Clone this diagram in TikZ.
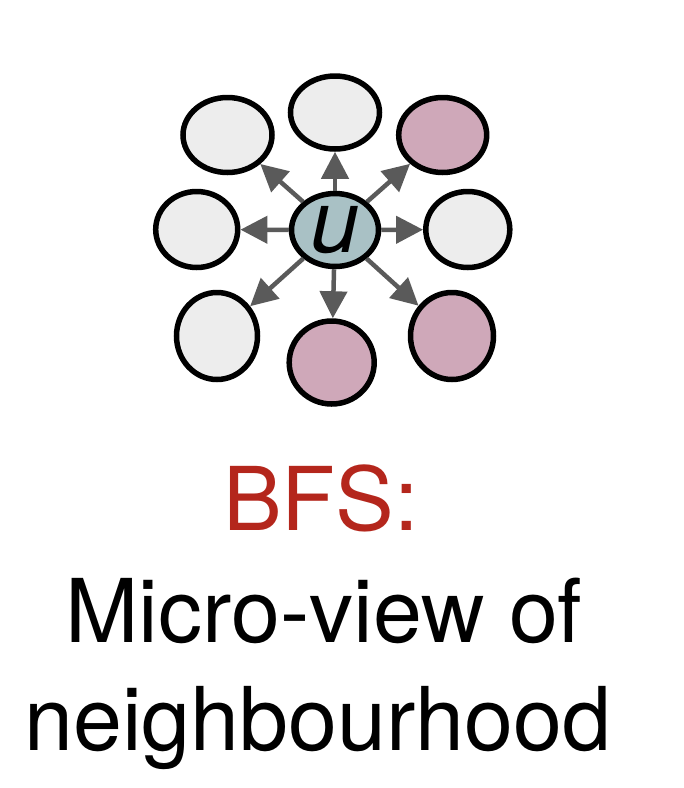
\documentclass[tikz,border=0pt]{standalone}
\usepackage{fontspec}
\setmainfont{TeX Gyre Heros}
\usetikzlibrary{shapes.geometric,arrows.meta}
\definecolor{nodegray}{HTML}{EDEDED}
\definecolor{nodepink}{HTML}{CFA8B9}
\definecolor{nodeteal}{HTML}{A9C1C5}
\definecolor{arrowgray}{HTML}{5A5A5A}
\definecolor{bfsred}{HTML}{B4261C}
\begin{document}
\begin{tikzpicture}[x=1pt,y=-1pt,
  nb/.style={ellipse,draw=black,line width=5.5pt,inner sep=0pt},
  grayn/.style={nb,fill=nodegray},
  pinkn/.style={nb,fill=nodepink},
  arr/.style={draw=arrowgray,line width=4.5pt,-{Triangle[length=27pt,width=27pt]},fill=arrowgray},
  bigtext/.style={inner sep=0pt,anchor=base,font=\fontsize{88}{106}\selectfont}
]
\useasboundingbox (0,0) rectangle (684,788);
\node[nb,fill=nodeteal,minimum width=87pt,minimum height=73pt] (u) at (335,230)
  {\raisebox{-12pt}{\fontsize{88}{88}\selectfont\itshape u}};
\node[grayn,minimum width=89pt,minimum height=75pt] (tl) at (227.5,135) {};
\node[grayn,minimum width=89pt,minimum height=73pt] (t) at (335,112.5) {};
\node[pinkn,minimum width=88pt,minimum height=75pt] (tr) at (442.7,135) {};
\node[grayn,minimum width=82pt,minimum height=76pt] (l) at (196.7,229.5) {};
\node[grayn,minimum width=84pt,minimum height=76pt] (r) at (467.8,229.5) {};
\node[grayn,minimum width=81pt,minimum height=87pt] (bl) at (217,336) {};
\node[pinkn,minimum width=85pt,minimum height=83pt] (b) at (331.7,362.5) {};
\node[pinkn,minimum width=83pt,minimum height=87pt] (br) at (452,336) {};
\foreach \n in {tl,t,tr,l,r,bl,b,br}{
  \draw[arr] (u) -- (\n);
}
\node[bigtext,text=bfsred] (bfs) at (321,530) {BFS:};
\node[bigtext] (micro) at (324,642) {Micro-view of};
\node[bigtext] (neigh) at (318,750) {neighbourhood};
\end{tikzpicture}
\end{document}
